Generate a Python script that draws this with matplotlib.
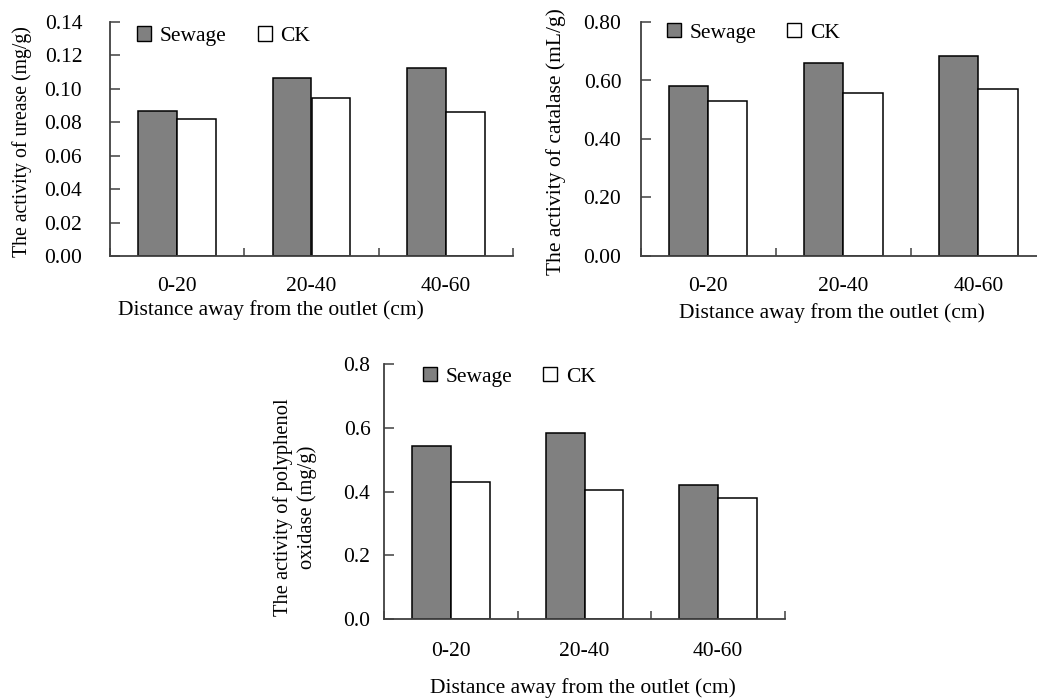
import matplotlib
matplotlib.use('Agg')
import matplotlib.pyplot as plt
from matplotlib.patches import Patch
from matplotlib.ticker import FormatStrFormatter
import numpy as np

plt.rcParams['font.family'] = ['Liberation Serif', 'DejaVu Serif']
plt.rcParams['font.size'] = 15.5

groups = ['0-20', '20-40', '40-60']
series = ['Sewage', 'CK']

urease_sewage = [0.0868, 0.1067, 0.1125]
urease_ck = [0.0820, 0.0943, 0.0860]
catalase_sewage = [0.581, 0.661, 0.685]
catalase_ck = [0.531, 0.556, 0.571]
ppo_sewage = [0.542, 0.584, 0.422]
ppo_ck = [0.431, 0.404, 0.381]

xlabel = 'Distance away from the outlet (cm)'
FS = 15.5

fig = plt.figure(figsize=(10.37, 6.98), dpi=100)
W, H = 1037.0, 698.0

def px_axes(l, r, b, t):
    return fig.add_axes([l / W, 1 - b / H, (r - l) / W, (b - t) / H])

def panel(ax, sew, ck, ymax, ystep, fmt, ypad, xpad, leg_xy):
    x = np.arange(len(groups))
    w = 0.29
    ax.bar(x - w / 2, sew, w, color='#808080', edgecolor='black', linewidth=1.1, label=series[0])
    ax.bar(x + w / 2, ck, w, color='white', edgecolor='black', linewidth=1.1, label=series[1])
    ax.set_xlim(-0.5, 2.5)
    ax.set_ylim(0, ymax)
    ax.set_yticks(np.arange(0, ymax + ystep / 2, ystep))
    ax.yaxis.set_major_formatter(FormatStrFormatter(fmt))
    ax.set_xticks(x)
    ax.set_xticklabels(groups)
    ax.set_xticks([-0.5, 0.5, 1.5, 2.5], minor=True)
    ax.tick_params(axis='x', which='major', length=0, pad=xpad, labelsize=FS)
    ax.tick_params(axis='x', which='minor', direction='in', length=6, width=1.1, color='#404040')
    ax.tick_params(axis='y', direction='in', length=7, width=1.1, color='#404040', pad=ypad, labelsize=FS)
    for s in ['top', 'right']:
        ax.spines[s].set_visible(False)
    for s in ['left', 'bottom']:
        ax.spines[s].set_color('#404040')
        ax.spines[s].set_linewidth(1.3)
    handles = [Patch(facecolor='#808080', edgecolor='black', linewidth=1.0),
               Patch(facecolor='white', edgecolor='black', linewidth=1.0)]
    ax.legend(handles, series, ncol=2, frameon=False, loc='center left',
              bbox_to_anchor=leg_xy, borderpad=0, borderaxespad=0,
              handlelength=0.65, handleheight=0.65, handletextpad=0.4,
              columnspacing=1.45, fontsize=FS)

ax1 = px_axes(110, 513, 256, 22)
panel(ax1, urease_sewage, urease_ck, 0.14, 0.02, '%.2f', 20, 15, (0.068, 0.94))
fig.text(22 / W, 1 - 142 / H, 'The activity of urease (mg/g)', rotation=90,
         ha='center', va='center', fontsize=14.2)
fig.text(271 / W, 1 - 310 / H, xlabel, ha='center', va='center', fontsize=FS)

ax2 = px_axes(640.7, 1046, 256, 22)
panel(ax2, catalase_sewage, catalase_ck, 0.80, 0.20, '%.2f', 14, 15, (0.064, 0.953))
fig.text(556 / W, 1 - 142 / H, 'The activity of catalase (mL/g)', rotation=90,
         ha='center', va='center', fontsize=15.5)
fig.text(832 / W, 1 - 313 / H, xlabel, ha='center', va='center', fontsize=FS)

ax3 = px_axes(384.3, 785, 619.3, 364)
panel(ax3, ppo_sewage, ppo_ck, 0.8, 0.2, '%.1f', 10, 16.5, (0.096, 0.95))
fig.text(295 / W, 1 - 507 / H, 'The activity of polyphenol\noxidase (mg/g)', rotation=90,
         ha='center', va='center', fontsize=14.8, linespacing=1.35)
fig.text(583 / W, 1 - 688 / H, xlabel, ha='center', va='center', fontsize=FS)

fig.savefig('out.png', dpi=100)
